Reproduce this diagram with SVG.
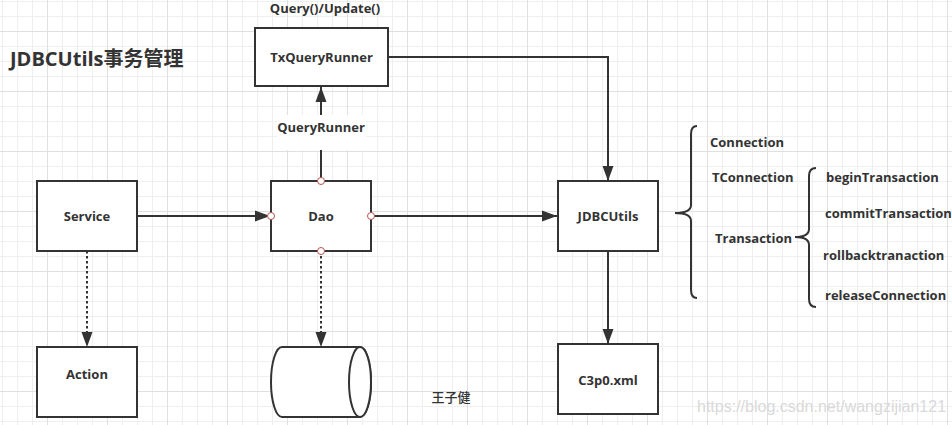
<svg xmlns="http://www.w3.org/2000/svg" width="952" height="425" viewBox="0 0 952 425">
<style>
.box{fill:#fff;stroke:#333;stroke-width:2}
.lbl{font-family:"Open Sans","Noto Sans CJK SC",sans-serif;font-weight:bold;font-size:13px;fill:#333}
.mid{text-anchor:middle}
.line{fill:none;stroke:#333;stroke-width:2}
.dot{fill:none;stroke:#333;stroke-width:2;stroke-dasharray:2.5 2.5}
.pt{fill:#fff;stroke:#b85450;stroke-width:1}
.brace{fill:none;stroke:#333;stroke-width:2}
</style>
<defs>
<pattern id="grid" patternUnits="userSpaceOnUse" x="47" y="31" width="60" height="60">
<path d="M15.5,0V60M30.5,0V60M45.5,0V60M0,15.5H60M0,30.5H60M0,45.5H60" stroke="#efefef" stroke-width="1" fill="none"/>
<path d="M0.5,0V60M0,0.5H60" stroke="#e0e0e0" stroke-width="1" fill="none"/>
</pattern>
<marker id="arr" markerUnits="userSpaceOnUse" markerWidth="16" markerHeight="12" viewBox="0 0 16 12" refX="15" refY="6" orient="auto">
<path d="M0,0.5L15,6L0,11.5Z" fill="#333"/>
</marker>
</defs>
<rect width="952" height="425" fill="#fff"/>
<rect width="952" height="425" fill="url(#grid)"/>

<text x="10" y="66" font-family="'Open Sans','Noto Sans CJK SC',sans-serif" font-weight="bold" font-size="20" fill="#333">JDBCUtils事务管理</text>
<text x="325" y="13" class="lbl mid">Query()/Update()</text>

<g id="connectors">
<path class="line" d="M137,216H270" marker-end="url(#arr)"/>
<path class="line" d="M371,216H557" marker-end="url(#arr)"/>
<path class="line" d="M321,181V87" marker-end="url(#arr)"/>
<rect x="277" y="115" width="89" height="35" fill="#fff"/>
<text x="321" y="131.5" class="lbl mid">QueryRunner</text>
<path class="line" d="M388,57H608V181" marker-end="url(#arr)"/>
<path class="line" d="M608,251V344" marker-end="url(#arr)"/>
<path class="dot" d="M87,251V347" marker-end="url(#arr)"/>
<path class="dot" d="M321,251V347" marker-end="url(#arr)"/>
</g>

<g id="txqueryrunner">
<rect class="box" x="255" y="28" width="133" height="58"/>
<text x="321.5" y="62" class="lbl mid">TxQueryRunner</text>
</g>

<g id="service">
<rect class="box" x="37" y="181" width="100" height="70"/>
<text x="87" y="220.5" class="lbl mid">Service</text>
</g>

<g id="dao">
<rect class="box" x="271" y="181" width="100" height="70"/>
<text x="321" y="220.5" class="lbl mid">Dao</text>
<circle class="pt" cx="321" cy="181" r="3.5"/>
<circle class="pt" cx="271" cy="216" r="3.5"/>
<circle class="pt" cx="371" cy="216" r="3.5"/>
<circle class="pt" cx="321" cy="251" r="3.5"/>
</g>

<g id="jdbcutils">
<rect class="box" x="558" y="181" width="100" height="70"/>
<text x="608" y="220.5" class="lbl mid">JDBCUtils</text>
</g>

<g id="action">
<rect class="box" x="37" y="347" width="100" height="70"/>
<text x="87" y="378.5" class="lbl mid">Action</text>
</g>

<g id="database">
<path class="box" d="M282,347H360A11,35 0 0 1 360,417H282A11,35 0 0 1 282,347Z"/>
<ellipse class="box" cx="360" cy="382" rx="11" ry="35"/>
</g>

<g id="c3p0">
<rect class="box" x="558" y="344" width="100" height="70"/>
<text x="608" y="384.5" class="lbl mid">C3p0.xml</text>
</g>

<g id="jdbcutils-members">
<path class="brace" d="M697,126Q691,126 691,134L691,205Q691,213 675,213Q691,213 691,221L691,290Q691,298 697,298"/>
<text x="710" y="147" class="lbl">Connection</text>
<text x="712" y="181.5" class="lbl">TConnection</text>
<text x="715" y="242.5" class="lbl">Transaction</text>
</g>

<g id="transaction-members">
<path class="brace" d="M816,168Q809,168 809,176L809,229Q809,237 795,237Q809,237 809,245L809,299Q809,307 816,307"/>
<text x="826" y="181.5" class="lbl">beginTransaction</text>
<text x="825" y="217.5" class="lbl">commitTransaction</text>
<text x="823" y="260" class="lbl">rollbacktranaction</text>
<text x="825" y="299.5" class="lbl">releaseConnection</text>
</g>

<text x="451" y="402" text-anchor="middle" font-family="'Noto Sans CJK SC',sans-serif" font-weight="500" font-size="13" fill="#333">王子健</text>
<text x="697" y="412" font-family="'Liberation Sans',Arial,sans-serif" font-size="16" fill="#d9d9d9">https://blog.csdn.net/wangzijian121</text>
</svg>
